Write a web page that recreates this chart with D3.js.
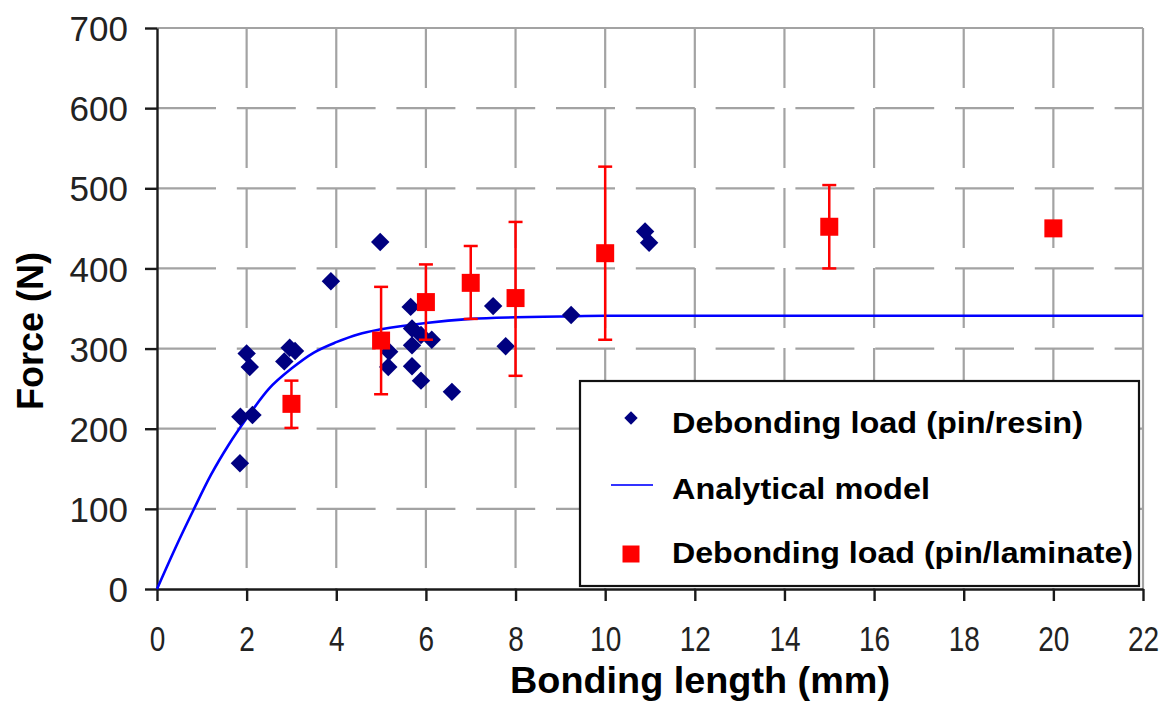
<!DOCTYPE html>
<html>
<head>
<meta charset="utf-8">
<script src="https://cdn.jsdelivr.net/npm/d3@7"></script>
<style>
  html, body { margin: 0; padding: 0; background: #fff; }
  svg { display: block; }
  text { font-family: "Liberation Sans", Arial, sans-serif; }
</style>
</head>
<body>
<svg id="chart" width="1176" height="706"></svg>
<script>
// ---- data ----
const xTicks = [0, 2, 4, 6, 8, 10, 12, 14, 16, 18, 20, 22];
const yTicks = [0, 100, 200, 300, 400, 500, 600, 700];

// Debonding load (pin/resin) – diamonds
const resinX = [1.85, 1.86, 2.13, 2.0, 2.07, 2.84, 2.96, 3.08, 3.88, 4.98, 5.66, 5.69, 5.89, 6.13, 5.69, 5.18, 5.16, 5.69, 5.89, 6.58, 7.5, 7.78, 9.24, 10.89, 10.98];
const resinF = [157, 215, 217, 294, 277, 284, 301, 297, 384, 433, 352, 325, 317, 311, 304, 296, 277, 278, 260, 246, 353, 303, 342, 446, 432];

// Analytical model
const modelX = [0, 0.4, 0.8, 1.2, 1.6, 2.0, 2.5, 3.0, 3.5, 4.0, 4.5, 5.0, 6.0, 7.0, 8.0, 9.0, 10, 12, 15, 18, 22];
const modelF = [0, 50, 97, 142, 180, 213, 250, 275, 295, 308, 318, 324, 332, 337, 339, 340, 341, 341, 341, 341, 341];

// Debonding load (pin/laminate) – squares with error bars
const lamX   = [3, 5, 6, 7, 8, 10, 15, 20];
const lamF   = [231, 310, 358, 382, 363, 419, 452, 450];
const lamLo  = [201, 243, 311, 337, 266, 311, 400, null];
const lamHi  = [260, 377, 405, 428, 458, 527, 504, null];

const legendLabels = ["Debonding load (pin/resin)", "Analytical model", "Debonding load (pin/laminate)"];
const xTitle = "Bonding length (mm)";
const yTitle = "Force (N)";

// ---- layout ----
const svg = d3.select("#chart");
const L = 157, T = 28, R = 1143, B = 589;
const x = d3.scaleLinear().domain([0, 22]).range([L, R]);
const y = d3.scaleLinear().domain([0, 700]).range([B, T]);

const gridColor = "#a3a3a3";

// grid - horizontal
svg.append("g").selectAll("line").data(yTicks.filter(v => v > 0)).join("line")
  .attr("x1", L).attr("x2", R)
  .attr("y1", d => y(d)).attr("y2", d => y(d))
  .attr("stroke", gridColor).attr("stroke-width", 2.2)
  .attr("stroke-dasharray", d => d === 700 ? null : "59,20.8");
// grid - vertical
svg.append("g").selectAll("line").data(xTicks.filter(v => v > 0)).join("line")
  .attr("x1", d => x(d)).attr("x2", d => x(d))
  .attr("y1", T).attr("y2", B)
  .attr("stroke", gridColor).attr("stroke-width", 2.2)
  .attr("stroke-dasharray", d => d === 22 ? null : "60,20");

// axes
const yAxis = svg.append("g").attr("transform", `translate(${L},0)`)
  .call(d3.axisLeft(y).tickValues(yTicks).tickSize(12).tickSizeOuter(0).tickPadding(17));
const xAxis = svg.append("g").attr("transform", `translate(0,${B})`)
  .call(d3.axisBottom(x).tickValues(xTicks).tickSize(12).tickSizeOuter(0));

[yAxis, xAxis].forEach(g => {
  g.select(".domain").attr("stroke", "#1a1a1a").attr("stroke-width", 2.4);
  g.selectAll(".tick line").attr("stroke", "#1a1a1a").attr("stroke-width", 2.4);
});
yAxis.selectAll(".tick text")
  .attr("font-size", 35).attr("fill", "#222").attr("dy", "0.36em");
xAxis.selectAll(".tick text")
  .attr("font-size", 35).attr("fill", "#222")
  .attr("y", 62).attr("dy", 0)
  .attr("transform", "scale(0.8,1)");

// analytical model
const line = d3.line().x(d => x(d[0])).y(d => y(d[1])).curve(d3.curveMonotoneX);
svg.append("path")
  .datum(modelX.map((v, i) => [v, modelF[i]]))
  .attr("d", line).attr("fill", "none")
  .attr("stroke", "#0000ff").attr("stroke-width", 2.6);

// diamonds
const diamond = d3.symbol().type(d3.symbolSquare).size(170);
svg.append("g").selectAll("path").data(resinX.map((v, i) => [v, resinF[i]])).join("path")
  .attr("d", diamond)
  .attr("transform", d => `translate(${x(d[0])},${y(d[1])}) rotate(45)`)
  .attr("fill", "#000080");

// error bars
const eb = svg.append("g").attr("stroke", "#ff0000").attr("stroke-width", 2.5);
lamX.forEach((v, i) => {
  if (lamLo[i] == null) return;
  const cx = x(v);
  eb.append("line").attr("x1", cx).attr("x2", cx).attr("y1", y(lamLo[i])).attr("y2", y(lamHi[i]));
  [lamLo[i], lamHi[i]].forEach(e => {
    eb.append("line").attr("x1", cx - 7).attr("x2", cx + 7).attr("y1", y(e)).attr("y2", y(e));
  });
});
// squares
const sq = d3.symbol().type(d3.symbolSquare).size(324);
svg.append("g").selectAll("path").data(lamX.map((v, i) => [v, lamF[i]])).join("path")
  .attr("d", sq)
  .attr("transform", d => `translate(${x(d[0])},${y(d[1])})`)
  .attr("fill", "#ff0000");

// legend
const lg = svg.append("g");
lg.append("rect").attr("x", 580).attr("y", 381).attr("width", 559).attr("height", 205)
  .attr("fill", "#fff").attr("stroke", "#111").attr("stroke-width", 2.2);
const rowsY = [423, 489, 553];
const lens = [411, 258, 461];
lg.append("path").attr("d", d3.symbol().type(d3.symbolSquare).size(90))
  .attr("transform", `translate(631,${rowsY[0] - 5}) rotate(45)`).attr("fill", "#000080");
lg.append("line").attr("x1", 611).attr("x2", 653).attr("y1", rowsY[1] - 4).attr("y2", rowsY[1] - 4)
  .attr("stroke", "#3333ff").attr("stroke-width", 2.2);
lg.append("path").attr("d", d3.symbol().type(d3.symbolSquare).size(289))
  .attr("transform", `translate(631,${rowsY[2] + 1})`).attr("fill", "#ff0000");
legendLabels.forEach((t, i) => {
  lg.append("text").attr("x", 672).attr("y", rowsY[i]).attr("dy", "0.36em")
    .attr("font-size", 29).attr("font-weight", "bold").attr("fill", "#000")
    .attr("textLength", lens[i]).attr("lengthAdjust", "spacingAndGlyphs")
    .text(t);
});

// titles
svg.append("text").attr("x", 700).attr("y", 693).attr("text-anchor", "middle")
  .attr("font-size", 37).attr("font-weight", "bold")
  .attr("textLength", 380).attr("lengthAdjust", "spacingAndGlyphs")
  .text(xTitle);
svg.append("text").attr("transform", "translate(43,331) rotate(-90)").attr("text-anchor", "middle")
  .attr("font-size", 36).attr("font-weight", "bold")
  .text(yTitle);
</script>
</body>
</html>
